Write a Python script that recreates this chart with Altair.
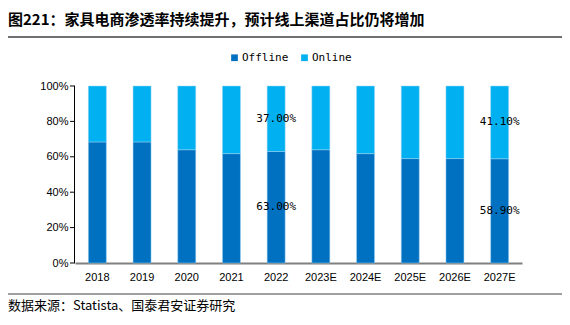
import altair as alt
import pandas as pd

years = ["2018", "2019", "2020", "2021", "2022", "2023E", "2024E", "2025E", "2026E", "2027E"]
offline = [68.4, 68.4, 64.0, 61.8, 63.0, 64.0, 61.8, 59.0, 59.0, 58.9]
online = [31.6, 31.6, 36.0, 38.2, 37.0, 36.0, 38.2, 41.0, 41.0, 41.1]
label_years = ["2022", "2027E"]
y_ticks = [0, 20, 40, 60, 80, 100]

title_text = "图221：家具电商渗透率持续提升，预计线上渠道占比仍将增加"
source_text = "数据来源：Statista、国泰君安证券研究"

rows = []
for y, off, on in zip(years, offline, online):
    rows.append({"year": y, "series": "Offline", "value": off, "order": 0,
                 "mid": off / 2, "label": f"{off:.2f}%"})
    rows.append({"year": y, "series": "Online", "value": on, "order": 1,
                 "mid": off + on / 2, "label": f"{on:.2f}%"})
df = pd.DataFrame(rows)
lab_df = df[df["year"].isin(label_years)]

W, H = 447, 177
PL, PT = 75, 86

x_enc = alt.X("year:N", sort=years, title=None,
              scale=alt.Scale(paddingInner=0, paddingOuter=0))
y_scale = alt.Scale(domain=[0, 100], nice=False)
y_axis = alt.Axis(values=y_ticks, labelExpr="datum.value + '%'", labelOverlap=False)

bars = alt.Chart(df).mark_bar(size=18, stroke="#9DD5F5", strokeWidth=0.5).encode(
    x=x_enc,
    y=alt.Y("value:Q", stack="zero", title=None, scale=y_scale, axis=y_axis),
    color=alt.Color("series:N", sort=["Offline", "Online"],
                    scale=alt.Scale(domain=["Offline", "Online"], range=["#0070C0", "#00B0F0"]),
                    legend=alt.Legend(title=None, orient="none", legendX=154, legendY=-34,
                                      direction="horizontal", symbolType="square",
                                      symbolSize=45, symbolStrokeWidth=0,
                                      labelFont="DejaVu Sans Mono", labelFontSize=11,
                                      labelColor="#000000", columnPadding=10, labelOffset=2)),
    order=alt.Order("order:Q"),
)

labels = alt.Chart(lab_df).mark_text(font="DejaVu Sans Mono", fontSize=11, color="#000000").encode(
    x=alt.X("year:N", sort=years, title=None),
    y=alt.Y("mid:Q", title=None, scale=y_scale, axis=y_axis),
    text="label:N",
)

# y-axis line and tick marks
ydom = alt.Chart(pd.DataFrame({"a": [0]})).mark_rule(color="#000000", strokeWidth=1).encode(
    x=alt.value(-0.5), y=alt.value(0), y2=alt.value(H))
yticks = alt.Chart(pd.DataFrame({"v": y_ticks})).mark_rule(color="#000000", strokeWidth=1).encode(
    x=alt.value(-5), x2=alt.value(0),
    y=alt.Y("v:Q", scale=y_scale, title=None, axis=y_axis))

title = alt.Chart(pd.DataFrame({"t": [title_text]})).mark_text(
    align="left", baseline="middle", font="Noto Sans CJK SC", fontSize=15,
    fontWeight="bold", color="#000000").encode(
    x=alt.value(8 - PL), y=alt.value(20 - PT), text="t:N")

source = alt.Chart(pd.DataFrame({"t": [source_text]})).mark_text(
    align="left", baseline="middle", font="Noto Sans CJK SC", fontSize=13,
    color="#000000").encode(
    x=alt.value(8 - PL), y=alt.value(306 - PT), text="t:N")

top_line = alt.Chart(pd.DataFrame({"a": [0]})).mark_rule(color="#404040", strokeWidth=1.5).encode(
    x=alt.value(8 - PL), x2=alt.value(562 - PL), y=alt.value(37 - PT))
bot_line = alt.Chart(pd.DataFrame({"a": [0]})).mark_rule(color="#404040", strokeWidth=1).encode(
    x=alt.value(8 - PL), x2=alt.value(562 - PL), y=alt.value(294 - PT))

chart = alt.layer(bars, labels, ydom, yticks, title, source, top_line, bot_line).properties(
    width=W, height=H,
    autosize=alt.AutoSizeParams(type="none"),
    padding={"left": PL, "top": PT, "right": 570 - PL - W, "bottom": 325 - PT - H},
    background="#ffffff",
).configure_view(stroke=None).configure_axisY(
    grid=False, domain=False, ticks=False, labelFont="Liberation Sans", labelFontSize=11,
    labelColor="#000000", labelPadding=7, labelOverlap=False,
).configure_axisX(
    labelAngle=0, ticks=False, domainColor="#808080", domainWidth=2,
    labelFont="Liberation Sans", labelFontSize=11, labelColor="#000000", labelPadding=8,
)

chart.save("out.html", embed_options={"renderer": "svg", "actions": False})
